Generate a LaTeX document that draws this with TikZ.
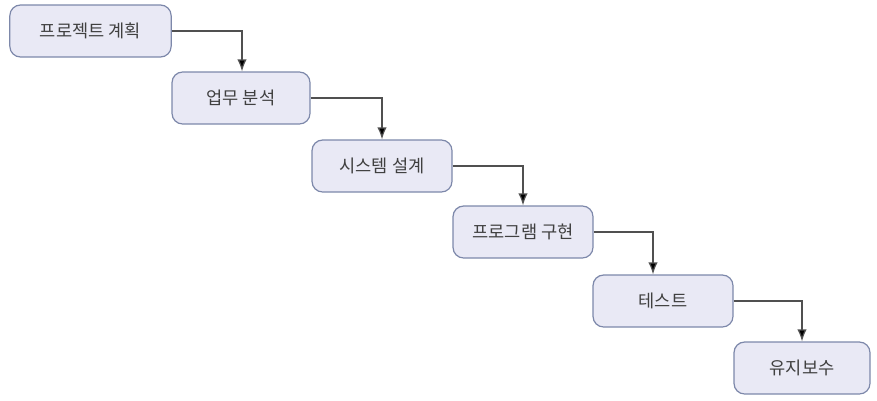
\documentclass[tikz,border=0pt]{standalone}
\usepackage{fontspec}
\setmainfont{Noto Sans CJK KR}
\usetikzlibrary{arrows.meta}
\definecolor{boxfill}{HTML}{E9E9F5}
\definecolor{boxline}{HTML}{7D88AA}
\definecolor{boxtext}{HTML}{404040}
\definecolor{flowline}{HTML}{505050}

\begin{document}
\begin{tikzpicture}[
  x=0.75pt,y=-0.75pt,
  >={Latex[length=9pt,width=7pt,fill=black]},
  stage/.style={draw=boxline,line width=0.9pt,rounded corners=8pt,fill=boxfill,
    minimum width=105pt,minimum height=39pt,inner sep=0pt,
    text=boxtext,font=\fontsize{13.2}{15}\selectfont},
  flow/.style={->,line width=0.9pt,flowline}
]
\useasboundingbox (0,0) rectangle (877,400);

% waterfall stages, stepping down to the right
\node[stage,minimum width=121pt] (plan) at (90.5,31) {프로젝트 계획};
\node[stage,minimum width=103.5pt] (analysis) at (241,98) {업무 분석};
\node[stage] (design) at (382,166) {시스템 설계};
\node[stage] (impl) at (523,232) {프로그램 구현};
\node[stage] (test) at (663,301) {테스트};
\node[stage,minimum width=102pt] (maint) at (802,368) {유지보수};

% hand-off from each stage to the next
\draw[flow] (plan.east) -| ([xshift=0.75pt]analysis.north);
\draw[flow] (analysis.east) -| (design.north);
\draw[flow] (design.east) -| (impl.north);
\draw[flow] (impl.east) -| ([xshift=-7.5pt]test.north);
\draw[flow] (test.east) -| (maint.north);
\end{tikzpicture}
\end{document}
